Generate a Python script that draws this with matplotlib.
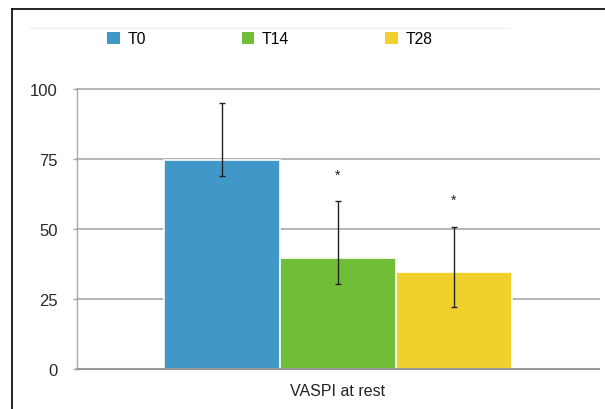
import matplotlib
matplotlib.use("Agg")
import matplotlib.pyplot as plt
from matplotlib.lines import Line2D
from matplotlib.patches import Patch
import numpy as np

plt.rcParams["font.family"] = ["Liberation Sans", "DejaVu Sans"]

# VASPI at rest, mean with lower/upper error ends
groups = ["T0", "T14", "T28"]
means = [74.5, 39.5, 34.8]
err_lo_end = [69, 30.4, 22]
err_hi_end = [95, 60, 50.8]
significant = [False, True, True]
colors = ["#4197c8", "#70be37", "#f0d02d"]
yticks = [0, 25, 50, 75, 100]
category = "VASPI at rest"

fig = plt.figure(figsize=(6.05, 4.10), dpi=100)
ax = fig.add_axes([77 / 605, 40 / 410, 522 / 605, 280 / 410])

x = np.arange(len(groups))
means_a = np.array(means)
yerr = [means_a - np.array(err_lo_end), np.array(err_hi_end) - means_a]

ax.bar(x, means, width=1.0, color=colors, edgecolor="white", linewidth=1.2, zorder=2)
ax.errorbar(x, means, yerr=yerr, fmt="none", ecolor="#222222",
            elinewidth=1.0, capsize=2.4, capthick=1.0, zorder=3)

for xi, hi, sig in zip(x, err_hi_end, significant):
    if sig:
        ax.text(xi, hi + 9.5, "*", ha="center", va="center", fontsize=10, color="#222222")

ax.set_xlim(-1.25, 3.25)
ax.set_ylim(0, 100)
ax.set_yticks(yticks)
ax.set_yticklabels([str(t) for t in yticks], fontsize=12, color="#2a2a2a")
ax.set_xticks([1])
ax.set_xticklabels([category], fontsize=11.5, color="#222222")
ax.tick_params(axis="x", length=0, pad=10)
ax.tick_params(axis="y", length=3, width=1, color="#aaaaaa", pad=11)

ax.yaxis.grid(True, color="#b0b0b0", linewidth=1.3, zorder=0)
for gl in ax.get_ygridlines():
    gl.set_clip_on(False)
ax.set_axisbelow(True)
for side in ["top", "right"]:
    ax.spines[side].set_visible(False)
ax.spines["left"].set_color("#aaaaaa")
ax.spines["left"].set_linewidth(1.0)
ax.spines["bottom"].set_color("#999999")
ax.spines["bottom"].set_linewidth(1.5)

handles = [Patch(facecolor=c, edgecolor="none", label=g) for c, g in zip(colors, groups)]
fig.legend(handles=handles, loc="center left", bbox_to_anchor=(107 / 605, 1 - 40 / 410),
           ncol=3, frameon=False, fontsize=11.3, handlelength=0.8, handleheight=0.8,
           handletextpad=0.5, columnspacing=6.1, borderpad=0, borderaxespad=0)

# faint rule above the legend and the outer frame
fig.add_artist(Line2D([30 / 605, 510 / 605], [1 - 29 / 410] * 2, color="#f2f2f2", lw=1))
fig.add_artist(Line2D([12 / 605, 1], [1 - 10 / 410] * 2, color="black", lw=1.2))
fig.add_artist(Line2D([12 / 605] * 2, [0, 1 - 10 / 410], color="black", lw=1.2))

fig.savefig("out.png", dpi=100)
